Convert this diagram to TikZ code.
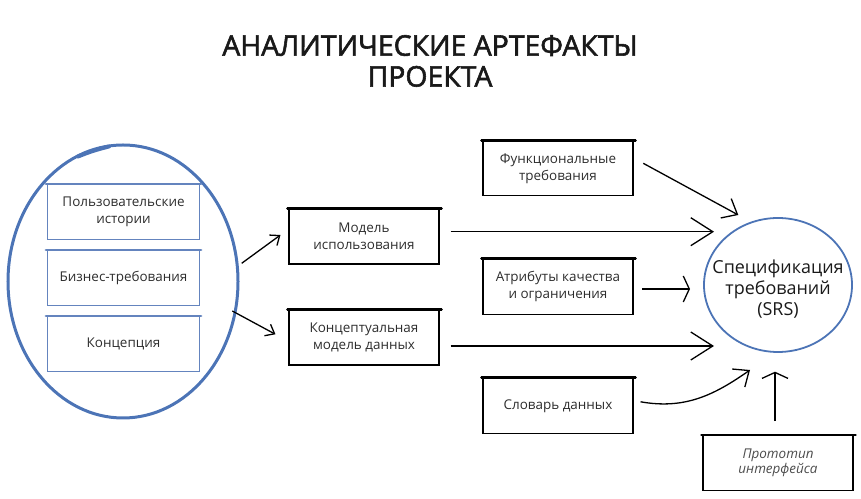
\documentclass[tikz,border=0pt]{standalone}
\usepackage{fontspec}
\setmainfont{Open Sans}
\newfontfamily\titlefont{Open Sans}[FakeBold=2]
\usetikzlibrary{arrows.meta,shapes.geometric,positioning}
\definecolor{skblue}{RGB}{76,116,182}
\definecolor{skboxblue}{RGB}{100,132,190}
\definecolor{sktext}{RGB}{45,45,45}
\tikzstyle{arrow} = [line width=1.3bp,->,>={Straight Barb[length=8bp,width=13bp]},color=black]
\tikzstyle{widebarb} = [arrow,>={Straight Barb[length=6bp,width=26bp]}]
\tikzstyle{midbarb} = [arrow,>={Straight Barb[length=13bp,width=22bp]}]
\tikzstyle{longbarb} = [arrow,>={Straight Barb[length=22bp,width=28bp]}]
\tikzstyle{card} = [draw=black, line width=1.1bp, minimum width=150bp, minimum height=55bp, inner sep=0pt, align=center, text=sktext, font=\fontsize{13.5}{17}\selectfont]
\tikzstyle{bluecard} = [card, draw=skboxblue, minimum width=152bp]
\tikzstyle{topedge} = [line width=2.6bp, line cap=round]

\begin{document}
\begin{tikzpicture}[x=1bp, y=1bp]
\useasboundingbox (0,0) rectangle (861,499);

% Title
\node[font=\titlefont\fontsize{28.5}{31}\selectfont, align=center, text=black!90] (title) at (430,438) {АНАЛИТИЧЕСКИЕ АРТЕФАКТЫ\\ПРОЕКТА};

% Sources grouped in the ellipse
\node[ellipse, draw=skblue, line width=3bp, minimum width=230bp, minimum height=273bp, inner sep=0pt] (ell) at (123,217.5) {};
\draw[skblue, line width=4bp, line cap=round] ([shift={(-45,125)}]ell.center) to[bend left=4] ([shift={(-14,135)}]ell.center);
\node[bluecard] (stories) at (123.5,287) {Пользовательские\\истории};
\node[bluecard] (business) at (123.5,221) {Бизнес-требования};
\node[bluecard] (vision) at (123.5,155) {Концепция};

% Models
\node[card] (usage) at (364,262.5) {Модель\\использования};
\node[card] (datamodel) at (364,161.5) {Концептуальная\\модель данных};

% Requirements
\node[card] (func) at (558,330.7) {Функциональные\\требования};
\node[card] (quality) at (558,212.2) {Атрибуты качества\\и ограничения};
\node[card] (glossary) at (558,93.2) {Словарь данных};

% SRS
\node[ellipse, draw=skblue, line width=1.8bp, minimum width=148bp, minimum height=134bp, inner sep=0pt] (srs) at (778,214) {};
\node[align=center, text=black!90, font=\fontsize{18}{21}\selectfont] (srstext) at ([yshift=-4bp]srs.center) {Спецификация\\требований\\(SRS)};
\node[card, font=\itshape\fontsize{13.5}{15}\selectfont, text=black!70] (proto) at (778,36) {Прототип\\интерфейса};

% Heavy top edges
\foreach \b in {stories,business,vision}
  \draw[topedge, skboxblue] ([xshift=-1bp]\b.north west) -- ([xshift=1bp]\b.north east);
\foreach \b in {usage,datamodel,func,quality,glossary,proto}
  \draw[topedge] ([xshift=-1bp]\b.north west) -- ([xshift=2bp]\b.north east);

% Arrows
\draw[arrow] ([shift={(118.7,18.2)}]ell.center) -- ([shift={(-8,1.5)}]usage.west);
\draw[arrow] ([shift={(109.3,-29.5)}]ell.center) -- ([shift={(-13,3.2)}]datamodel.west);
\draw[longbarb] ([shift={(11,4.8)}]usage.east) -- ([shift={(-64,53.3)}]srs.center);
\draw[longbarb] ([shift={(11,-8.5)}]datamodel.east) -- ([shift={(-64,-61)}]srs.center);
\draw[midbarb] ([shift={(9.7,5)}]func.east) -- ([shift={(-39.7,70)}]srs.center);
\draw[widebarb] ([shift={(8.7,-2.2)}]quality.east) -- ([shift={(-88,-4)}]srs.center);
\draw[midbarb] ([shift={(7,4)}]glossary.east) to[out=-10,in=215] ([shift={(-28,-85)}]srs.center);
\draw[widebarb] ([shift={(-3,13.8)}]proto.north) -- ([shift={(-3,-86.7)}]srs.center);
\end{tikzpicture}
\end{document}
